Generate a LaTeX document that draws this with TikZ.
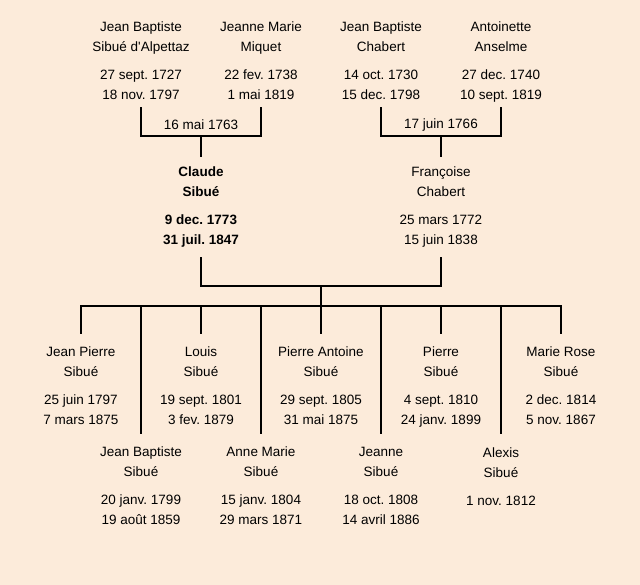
\documentclass[tikz,border=0pt]{standalone}
\usepackage{fontspec}
\setmainfont{Liberation Sans}
\usetikzlibrary{calc}
\definecolor{bg}{RGB}{252,235,218}
\frenchspacing
\tikzset{
  person/.style={anchor=south, align=center, inner sep=0pt, font=\fontsize{13.5}{20}\selectfont},
  mlabel/.style={inner sep=0pt, font=\fontsize{13.5}{20}\selectfont},
  ln/.style={line width=2pt, line cap=rect}
}
\newcommand{\pers}[4]{\strut#1\\\strut#2\\[8pt]\strut#3\\\strut#4}
\begin{document}
\begin{tikzpicture}[x=1pt,y=-1pt]
\fill[bg] (0,0) rectangle (640,585);
\useasboundingbox (0,0) rectangle (640,585);
% grandparents
\node[person] (gp1) at (141,106) {\pers{Jean Baptiste}{Sibué d\textquotesingle Alpettaz}{27 sept. 1727}{18 nov. 1797}};
\node[person] (gp2) at (261,106) {\pers{Jeanne Marie}{Miquet}{22 fev. 1738}{1 mai 1819}};
\node[person] (gp3) at (381,106) {\pers{Jean Baptiste}{Chabert}{14 oct. 1730}{15 dec. 1798}};
\node[person] (gp4) at (501,106) {\pers{Antoinette}{Anselme}{27 dec. 1740}{10 sept. 1819}};
\node[mlabel] (l1) at (201,125) {16 mai 1763};
\node[mlabel] (l2) at (441,125) {17 juin 1766};
\coordinate (m1) at (201,136);
\coordinate (m2) at (441,136);
% parents
\node[person, font=\fontsize{13.5}{20}\selectfont\bfseries] (p1) at (201,251) {\pers{Claude}{Sibué}{9 dec. 1773}{31 juil. 1847}};
\node[person] (p2) at (441,251) {\pers{Françoise}{Chabert}{25 mars 1772}{15 juin 1838}};
\coordinate (pm) at (321,286);
\coordinate (bar) at (321,306);
% children row 1
\node[person] (c1) at (81,431) {\pers{Jean Pierre}{Sibué}{25 juin 1797}{7 mars 1875}};
\node[person] (c3) at (201,431) {\pers{Louis}{Sibué}{19 sept. 1801}{3 fev. 1879}};
\node[person] (c5) at (321,431) {\pers{Pierre Antoine}{Sibué}{29 sept. 1805}{31 mai 1875}};
\node[person] (c7) at (441,431) {\pers{Pierre}{Sibué}{4 sept. 1810}{24 janv. 1899}};
\node[person] (c9) at (561,431) {\pers{Marie Rose}{Sibué}{2 dec. 1814}{5 nov. 1867}};
% children row 2
\node[person] (c2) at (141,531) {\pers{Jean Baptiste}{Sibué}{20 janv. 1799}{19 août 1859}};
\node[person] (c4) at (261,531) {\pers{Anne Marie}{Sibué}{15 janv. 1804}{29 mars 1871}};
\node[person] (c6) at (381,531) {\pers{Jeanne}{Sibué}{18 oct. 1808}{14 avril 1886}};
\node[person, anchor=north] (c8) at (501,443) {\strut Alexis\\\strut Sibué\\[8pt]\strut 1 nov. 1812};
% connectors
\draw[ln] ([yshift=-2pt]gp1.south) |- (m1) -| ([yshift=-2pt]gp2.south);
\draw[ln] ([yshift=-2pt]gp3.south) |- (m2) -| ([yshift=-2pt]gp4.south);
\draw[ln] (m1) -- ([yshift=7pt]p1.north);
\draw[ln] (m2) -- ([yshift=7pt]p2.north);
\draw[ln] ([yshift=-7pt]p1.south) |- (pm) -| ([yshift=-7pt]p2.south);
\draw[ln] (pm) -- (bar);
\foreach \c in {c1,c2,c3,c4,c5,c6,c7,c8,c9}
  \draw[ln] ([yshift=10pt]\c.north) |- (bar);
\end{tikzpicture}
\end{document}
